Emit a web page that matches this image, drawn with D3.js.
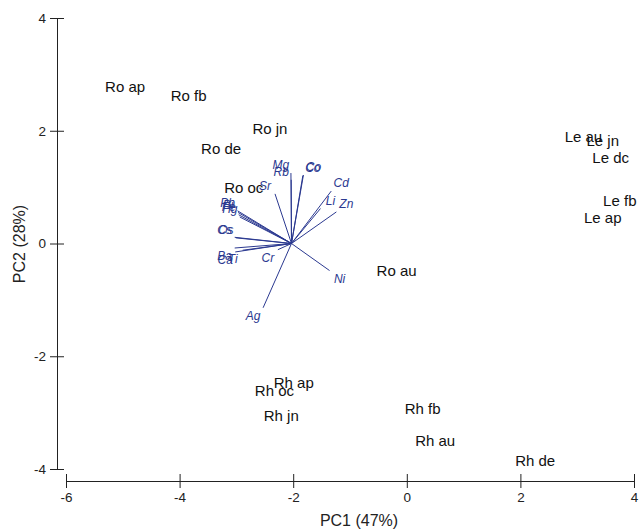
<!DOCTYPE html>
<html>
<head>
<meta charset="utf-8">
<script src="https://cdn.jsdelivr.net/npm/d3@7.9.0/dist/d3.min.js"></script>
<style>
  body { margin: 0; background: #fff; }
  svg { display: block; font-family: Arial, "Liberation Sans", sans-serif; }
</style>
</head>
<body>
<svg id="chart" width="639" height="529"></svg>
<script>
// Sample scores (PC1, PC2)
const sampleNames = ['Ro ap', 'Ro fb', 'Ro jn', 'Ro de', 'Ro oc', 'Ro au',
  'Le au', 'Le jn', 'Le dc', 'Le fb', 'Le ap',
  'Rh ap', 'Rh oc', 'Rh jn', 'Rh fb', 'Rh au', 'Rh de'];
const samplePC1 = [-4.96, -3.84, -2.41, -3.27, -2.87, -0.18,
  3.11, 3.45, 3.59, 3.75, 3.45,
  -1.99, -2.33, -2.21, 0.28, 0.50, 2.26];
const samplePC2 = [2.78, 2.62, 2.03, 1.68, 0.99, -0.48,
  1.89, 1.83, 1.53, 0.76, 0.46,
  -2.46, -2.61, -3.06, -2.92, -3.49, -3.85];

// Element loadings (drawn from the biplot origin)
const loadingOrigin = [-2.03, 0];
const elementNames = ['Mg', 'Rb', 'Co', 'Co', 'Sr', 'Cd', 'Li', 'Zn', 'Ni', 'Ag', 'Cr',
  'Ba', 'Ca', 'Ti', 'Cs', 'Os', 'Pb', 'Bi', 'Fe', 'Hg'];
const loadPC1 = [-0.01, -0.005, 0.21, 0.20, -0.29, 0.70, 0.51, 0.79, 0.67, -0.50, -0.24,
  -1.00, -0.99, -0.86, -1.00, -0.98, -0.95, -0.94, -0.93, -0.91];
const loadPC2 = [1.25, 1.13, 1.215, 1.205, 0.88, 0.93, 0.62, 0.56, -0.48, -1.14, -0.11,
  -0.08, -0.15, -0.12, 0.11, 0.10, 0.58, 0.55, 0.51, 0.47];

const xTicks = [-6, -4, -2, 0, 2, 4];
const yTicks = [-4, -2, 0, 2, 4];

const svg = d3.select('#chart');
const x = d3.scaleLinear().domain([-6, 4]).range([66, 634]);
const y = d3.scaleLinear().domain([-4, 4]).range([469, 18]);
const axisColor = '#222';
const vecColor = '#2b3990';

// x axis
const gx = svg.append('g')
  .attr('transform', 'translate(0,481)')
  .call(d3.axisBottom(x).tickValues(xTicks).tickFormat(d => String(d))
    .tickSizeInner(7).tickSizeOuter(0).tickPadding(4));
gx.selectAll('.tick line').attr('y1', -7).attr('y2', 7);

// y axis
const gy = svg.append('g')
  .attr('transform', 'translate(57,0)')
  .call(d3.axisLeft(y).tickValues(yTicks).tickFormat(d => String(d))
    .tickSizeInner(7).tickSizeOuter(0).tickPadding(4));
gy.selectAll('.tick line').attr('x1', 7).attr('x2', -7);

[gx, gy].forEach(g => {
  g.select('.domain').attr('stroke', axisColor);
  g.selectAll('.tick line').attr('stroke', axisColor);
  g.selectAll('.tick text').attr('fill', '#222').style('font-size', '13.5px')
    .style('font-family', 'Arial, "Liberation Sans", sans-serif');
});

// axis titles
svg.append('text')
  .attr('x', 359).attr('y', 526)
  .attr('text-anchor', 'middle')
  .attr('fill', '#222')
  .style('font-size', '16px')
  .text('PC1 (47%)');

svg.append('text')
  .attr('transform', 'translate(25,244) rotate(-90)')
  .attr('text-anchor', 'middle')
  .attr('fill', '#222')
  .style('font-size', '16px')
  .text('PC2 (28%)');

// loadings
const loadings = elementNames.map((n, i) => ({ name: n, dx: loadPC1[i], dy: loadPC2[i] }));
const ox = x(loadingOrigin[0]), oy = y(loadingOrigin[1]);

svg.append('g').selectAll('line')
  .data(loadings)
  .join('line')
  .attr('x1', ox).attr('y1', oy)
  .attr('x2', d => x(loadingOrigin[0] + d.dx))
  .attr('y2', d => y(loadingOrigin[1] + d.dy))
  .attr('stroke', vecColor)
  .attr('stroke-width', 1);

svg.append('g').selectAll('text')
  .data(loadings)
  .join('text')
  .attr('x', d => x(loadingOrigin[0] + d.dx) + (d.dx < 0 ? -10 : 10))
  .attr('y', d => y(loadingOrigin[1] + d.dy) + (d.dy < 0 ? 8 : -8))
  .attr('dy', '0.36em')
  .attr('text-anchor', 'middle')
  .attr('fill', vecColor)
  .style('font-size', '12px')
  .style('font-style', 'italic')
  .text(d => d.name);

// sample labels
svg.append('g').selectAll('text')
  .data(sampleNames.map((n, i) => ({ name: n, pc1: samplePC1[i], pc2: samplePC2[i] })))
  .join('text')
  .attr('x', d => x(d.pc1))
  .attr('y', d => y(d.pc2))
  .attr('dy', '0.36em')
  .attr('text-anchor', 'middle')
  .attr('fill', '#111')
  .style('font-size', '15px')
  .text(d => d.name);
</script>
</body>
</html>
